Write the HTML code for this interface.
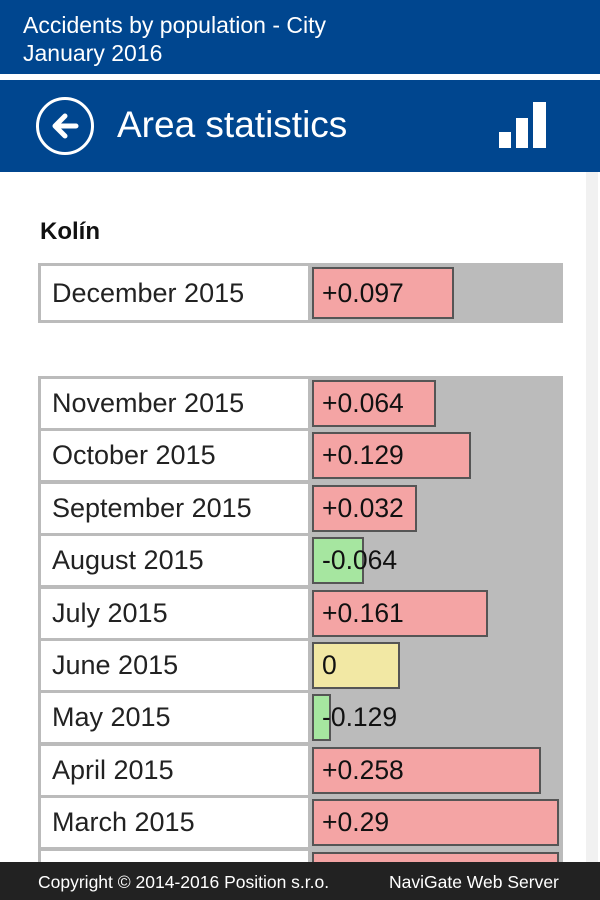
<!DOCTYPE html>
<html><head><meta charset="utf-8"><style>
*{margin:0;padding:0;box-sizing:border-box}
body{width:600px;height:900px;position:relative;overflow:hidden;background:#fff;font-family:"Liberation Sans",sans-serif}
.a{position:absolute}
.lab{position:absolute;left:41px;width:267px;background:#fff;font-size:27px;color:#222;padding-left:11px;display:flex;align-items:center}
.bar{position:absolute;left:312px;border:2px solid #555;font-size:26.5px;color:#111;padding-left:8px;display:flex;align-items:center;white-space:nowrap}
.r{background:#f4a4a4}.g{background:#a6e6a0}.y{background:#f2e8a4}
</style></head><body>
<div class="a" style="left:0;top:0;width:600px;height:74px;background:#00468f"></div>
<div class="a" style="left:23px;top:11px;color:#fff;font-size:23px;line-height:28px">Accidents by population - City<br>January 2016</div>
<div class="a" style="left:0;top:80px;width:600px;height:92px;background:#00468f"></div>
<div class="a" style="left:36px;top:97px;width:58px;height:58px;border:3px solid #fff;border-radius:50%"></div>
<svg class="a" style="left:36px;top:97px" width="58" height="58"><path d="M40 29H20M29 19L19 29L29 39" stroke="#fff" stroke-width="5" fill="none" stroke-linecap="round" stroke-linejoin="round"/></svg>
<div class="a" style="left:117px;top:104px;color:#fff;font-size:37px">Area statistics</div>
<div class="a" style="left:499px;top:132px;width:12px;height:16px;background:#fff"></div>
<div class="a" style="left:516px;top:118px;width:12px;height:30px;background:#fff"></div>
<div class="a" style="left:533px;top:102px;width:13px;height:46px;background:#fff"></div>
<div class="a" style="left:586px;top:172px;width:12px;height:690px;background:#f1f1f1"></div>
<div class="a" style="left:40px;top:218px;font-size:24px;font-weight:bold;color:#111">Kolín</div>
<div class="a" style="left:38px;top:263px;width:525px;height:60px;background:#bbb"></div>
<div class="lab" style="top:266px;height:54px">December 2015</div>
<div class="bar r" style="top:267px;height:52px;width:142px">+0.097</div>
<div class="a" style="left:38px;top:376px;width:525px;height:490px;background:#bbb"></div>
<div class="lab" style="top:379px;height:49px">November 2015</div><div class="bar r" style="top:380px;height:47px;width:124px">+0.064</div>
<div class="lab" style="top:431px;height:49px">October 2015</div><div class="bar r" style="top:432px;height:47px;width:159px">+0.129</div>
<div class="lab" style="top:484px;height:49px">September 2015</div><div class="bar r" style="top:485px;height:47px;width:105px">+0.032</div>
<div class="lab" style="top:536px;height:49px">August 2015</div><div class="bar g" style="top:537px;height:47px;width:52px;overflow:visible">-0.064</div>
<div class="lab" style="top:589px;height:49px">July 2015</div><div class="bar r" style="top:590px;height:47px;width:176px">+0.161</div>
<div class="lab" style="top:641px;height:49px">June 2015</div><div class="bar y" style="top:642px;height:47px;width:88px">0</div>
<div class="lab" style="top:693px;height:49px">May 2015</div><div class="bar g" style="top:694px;height:47px;width:19px;overflow:visible">-0.129</div>
<div class="lab" style="top:746px;height:49px">April 2015</div><div class="bar r" style="top:747px;height:47px;width:229px">+0.258</div>
<div class="lab" style="top:798px;height:49px">March 2015</div><div class="bar r" style="top:799px;height:47px;width:247px">+0.29</div>
<div class="lab" style="top:851px;height:49px"></div><div class="bar r" style="top:852px;height:47px;width:247px"></div>
<div class="a" style="left:0;top:862px;width:600px;height:38px;background:#222"></div>
<div class="a" style="left:38px;top:872px;color:#fff;font-size:17.5px">Copyright © 2014-2016 Position s.r.o.</div>
<div class="a" style="left:389px;top:872px;color:#fff;font-size:17.5px">NaviGate Web Server</div>
</body></html>
